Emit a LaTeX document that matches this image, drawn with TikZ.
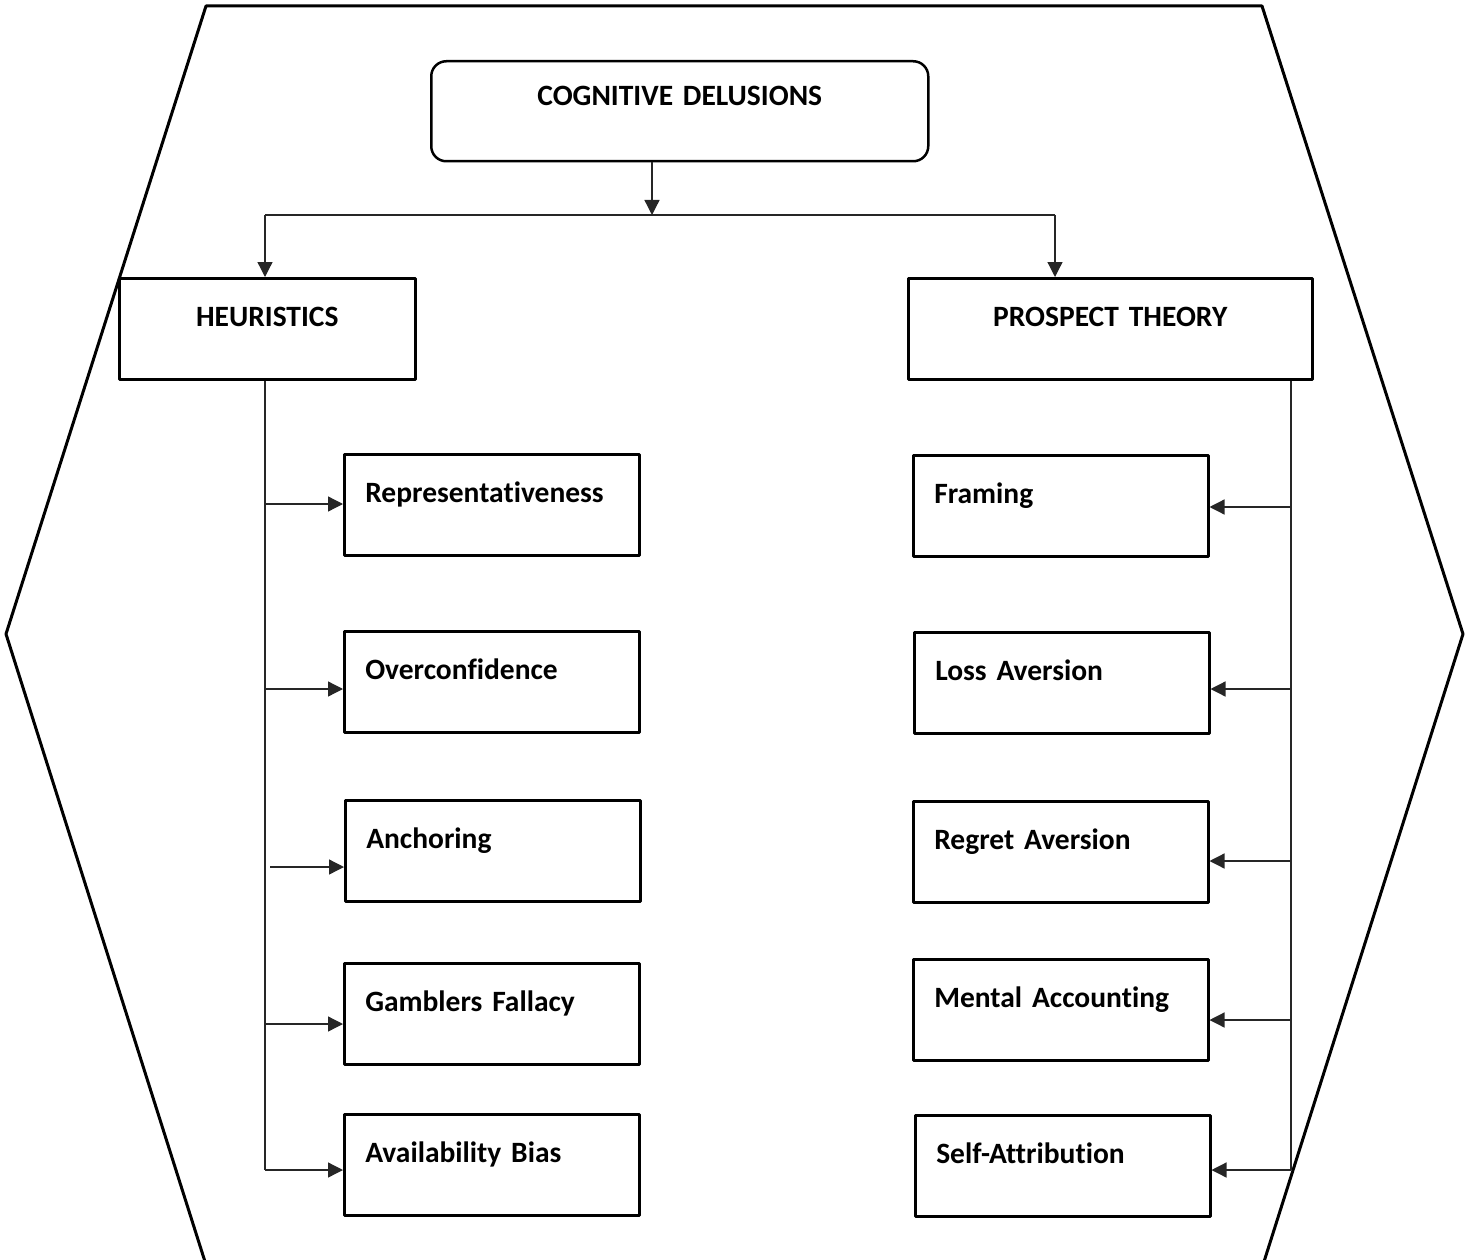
\documentclass[tikz,border=0pt]{standalone}
\usepackage{fontspec}
\setmainfont[Ligatures={NoCommon}]{Carlito}
\usetikzlibrary{arrows.meta}
\begin{document}
\begin{tikzpicture}[x=1pt, y=-1pt, font=\fontsize{29.5}{35}\selectfont\bfseries, line join=round, >={Triangle[length=15pt,width=15pt]}]
	\tikzset{
		hop/.style={draw, line width=2.5pt, anchor=north west, inner xsep=21pt, inner ysep=0pt, text height=48pt, text depth=53pt, text width=253pt, align=left},
		dau/.style={hop, align=center},
		noi/.style={line width=1.3pt, draw=black!85},
	}
	\clip (0,0) rectangle (1475,1260);
	% luc giac bao ngoai
	\draw[line width=3pt] (206,6)--(1262,6)--(1463,634)--(1255,1290)--(214,1290)--(6,634)--cycle;
	% cac hop dau
	\node[dau, rounded corners=15pt, text width=455pt, text height=44pt, text depth=56pt] (cog) at (430,60) {COGNITIVE DELUSIONS};
	\node[dau, text width=254pt] (heur) at (118,277) {HEURISTICS};
	\node[dau, text width=362pt] (pros) at (907,277) {PROSPECT THEORY};
	% nhanh trai
	\node[hop] (rep) at (343,453) {Representativeness};
	\node[hop] (ovc) at (343,630) {Overconfidence};
	\node[hop] (anc) at (344,799) {Anchoring};
	\node[hop] (gam) at (343,962) {Gamblers Fallacy};
	\node[hop] (ava) at (343,1113) {Availability Bias};
	% nhanh phai
	\node[hop] (fra) at (912,454) {Framing};
	\node[hop] (los) at (913,631) {Loss Aversion};
	\node[hop] (reg) at (912,800) {Regret Aversion};
	\node[hop] (men) at (912,958) {Mental Accounting};
	\node[hop] (sel) at (914,1114) {Self-Attribution};
	% duong noi
	\coordinate (re) at (652,215);
	\coordinate (trai) at (265,215);
	\coordinate (phai) at (1055,215);
	\coordinate (ttrai) at (265,1170);
	\coordinate (tphai) at (1291,1170);
	\draw[noi,->] (cog.south -| re) -- (re);
	\draw[noi] (trai) -- (phai);
	\draw[noi,->] (trai) -- (trai |- heur.north);
	\draw[noi,->] (phai) -- (phai |- pros.north);
	\draw[noi] (heur.south -| ttrai) -- (ttrai);
	\draw[noi] (pros.south -| tphai) -- (tphai);
	\foreach \n/\x/\y in {rep/265/504, ovc/265/689, anc/270/867, gam/265/1024, ava/265/1170}
		\draw[noi,->] (\x,\y) -- (\n.west |- 0,\y);
	\foreach \n/\y in {fra/507, los/689, reg/861, men/1020, sel/1170}
		\draw[noi,->] (1291,\y) -- (\n.east |- 0,\y);
\end{tikzpicture}
\end{document}
